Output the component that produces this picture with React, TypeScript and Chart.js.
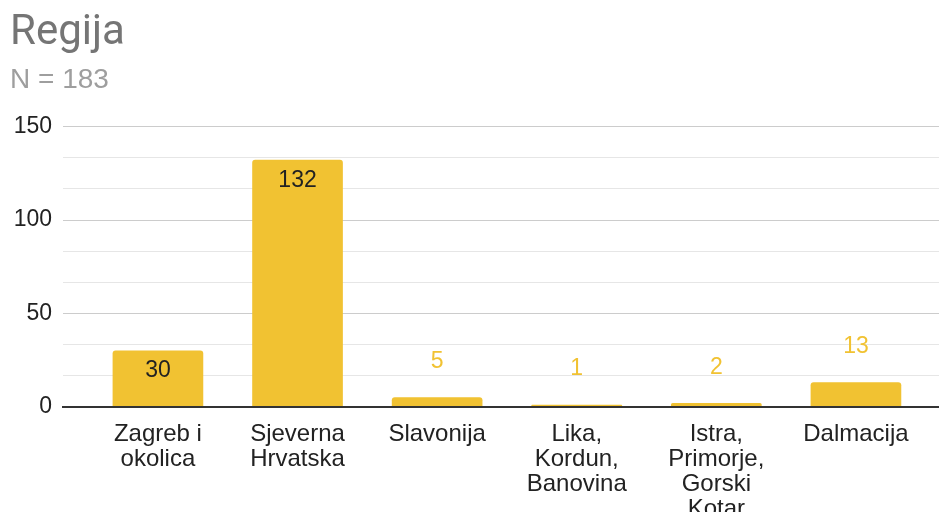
import React, { useEffect, useRef } from "react";
import { Chart, registerables } from "chart.js";

Chart.register(...registerables);

const chartTitle = "Regija";
const chartSubtitle = "N = 183";
const categories = [
  "Zagreb i\nokolica",
  "Sjeverna\nHrvatska",
  "Slavonija",
  "Lika,\nKordun,\nBanovina",
  "Istra,\nPrimorje,\nGorski\nKotar",
  "Dalmacija",
];
const values = [30, 132, 5, 1, 2, 13];
const yTickLabels = [0, 50, 100, 150];
const minorPerMajor = 3;

const BAR = "#f1c232";
const FONT = "'Liberation Sans', Arial, sans-serif";
const TITLE_FONT = "Roboto, 'Liberation Sans', sans-serif";

export default function App() {
  const ref = useRef<HTMLCanvasElement>(null);

  useEffect(() => {
    if (!ref.current) return;
    const yMax = yTickLabels[yTickLabels.length - 1];
    const majorStep = yTickLabels[1] - yTickLabels[0];
    const gridValues: number[] = [];
    for (let i = 0; i < yTickLabels.length - 1; i++) {
      for (let j = 0; j < minorPerMajor; j++) {
        gridValues.push(yTickLabels[i] + (majorStep * j) / minorPerMajor);
      }
    }
    gridValues.push(yMax);
    const isMajor = (v: number) => yTickLabels.some((t) => Math.abs(t - v) < 1e-6);

    const labelPlugin = {
      id: "barLabels",
      afterDatasetsDraw(chart: any) {
        const ctx = chart.ctx;
        const meta = chart.getDatasetMeta(0);
        ctx.save();
        ctx.font = `23px ${FONT}`;
        ctx.textAlign = "center";
        ctx.textBaseline = "middle";
        meta.data.forEach((bar: any, i: number) => {
          const v = values[i];
          const h = bar.base - bar.y;
          if (h > 40) {
            ctx.fillStyle = "#222222";
            ctx.fillText(String(v), bar.x, bar.y + 20);
          } else {
            ctx.fillStyle = BAR;
            ctx.fillText(String(v), bar.x, bar.y - 36);
          }
        });
        ctx.restore();
      },
    };

    const chart = new Chart(ref.current, {
      type: "bar",
      data: {
        datasets: [
          {
            data: values.map((v, i) => ({ x: i, y: v })),
            backgroundColor: BAR,
            borderRadius: 3,
            borderSkipped: "start",
            barThickness: 90,
          },
        ],
      },
      plugins: [labelPlugin],
      options: {
        animation: false,
        responsive: true,
        maintainAspectRatio: false,
        layout: { padding: { left: 10, right: 0, top: 0, bottom: 0 } },
        plugins: {
          legend: { display: false },
          tooltip: { enabled: false },
          title: {
            display: true,
            text: chartTitle,
            align: "start",
            color: "#757575",
            font: { family: TITLE_FONT, size: 42, weight: "normal" },
            padding: { top: 8.5, bottom: 0 },
          },
          subtitle: {
            display: true,
            text: chartSubtitle,
            align: "start",
            color: "#9e9e9e",
            font: { family: FONT, size: 28, weight: "normal" },
            padding: { top: 4.4, bottom: 29.6 },
          },
        },
        scales: {
          x: {
            type: "linear",
            offset: false,
            min: -0.68,
            max: 5.595,
            afterBuildTicks: (s: any) => {
              s.ticks = categories.map((_, i) => ({ value: i }));
            },
            afterFit: (s: any) => {
              s.height = 105;
            },
            ticks: {
              autoSkip: false,
              maxRotation: 0,
              minRotation: 0,
              color: "#222222",
              padding: 7,
              font: { family: FONT, size: 24, lineHeight: "25px" },
              callback: (v: any) => {
                const c = categories[Math.round(Number(v))];
                return c ? c.split("\n") : "";
              },
            },
            grid: { display: false },
            border: { display: true, color: "#333333", width: 2, z: 1 },
          },
          y: {
            min: 0,
            max: yMax,
            afterBuildTicks: (s: any) => {
              s.ticks = gridValues.map((v) => ({ value: v }));
            },
            afterFit: (s: any) => {
              s.width = 53;
            },
            ticks: {
              autoSkip: false,
              color: "#222222",
              padding: 11,
              font: { family: FONT, size: 23 },
              callback: (v: any) => (isMajor(Number(v)) ? String(Math.round(Number(v))) : ""),
            },
            grid: {
              drawTicks: false,
              lineWidth: 1,
              color: (ctx: any) =>
                ctx.tick && isMajor(ctx.tick.value) ? "#cccccc" : "#e6e6e6",
            },
            border: { display: false },
          },
        },
      },
    } as any);

    return () => chart.destroy();
  }, []);

  return (
    <div style={{ position: "absolute", left: 0, top: 0, width: 939, height: 512 }}>
      <canvas ref={ref} />
    </div>
  );
}
